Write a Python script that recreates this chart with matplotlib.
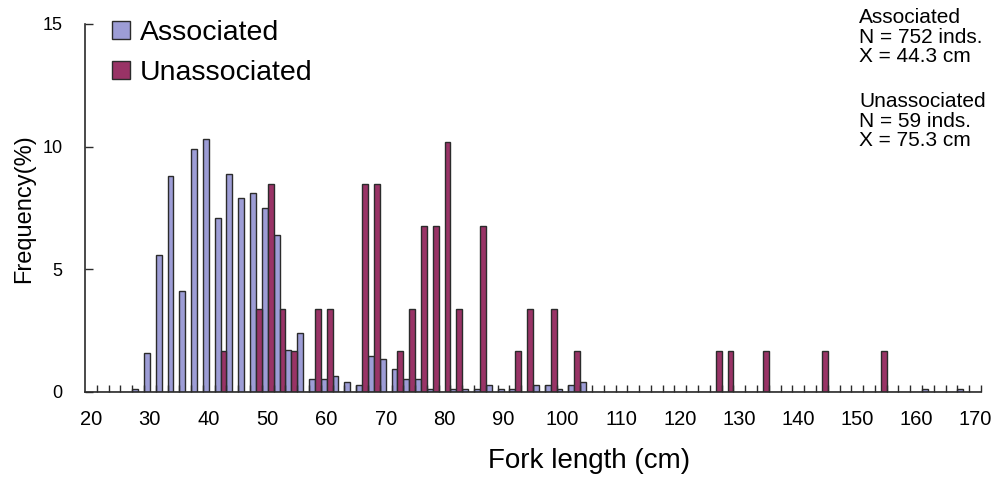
import numpy as np
import matplotlib
matplotlib.use("Agg")
import matplotlib.pyplot as plt
from matplotlib.patches import Patch

plt.rcParams['font.family'] = ['Liberation Sans', 'DejaVu Sans']

# 2 cm fork length classes
classes = list(range(20, 172, 2))

# associated schools, % of 752 fish (classes with no fish left out)
assoc_cm = [28, 30, 32, 34, 36, 38, 40, 42, 44, 46, 48, 50, 52, 54, 56, 58,
            60, 62, 64, 66, 68, 70, 72, 74, 76, 78, 82, 84, 86, 88, 90, 92,
            96, 98, 100, 102, 104, 162, 168]
assoc_pct = [0.13, 1.6, 5.6, 8.8, 4.1, 9.9, 10.3, 7.1, 8.9, 7.9, 8.1, 7.5,
             6.4, 1.7, 2.4, 0.53, 0.53, 0.67, 0.40, 0.27, 1.46, 1.33, 0.93,
             0.53, 0.53, 0.13, 0.13, 0.13, 0.13, 0.27, 0.13, 0.13, 0.27,
             0.27, 0.13, 0.27, 0.40, 0.13, 0.13]

# unassociated schools, % of 59 fish
unassoc_cm = [42, 48, 50, 52, 54, 58, 60, 66, 68, 72, 74, 76, 78, 80, 82, 86,
              92, 94, 98, 102, 126, 128, 134, 144, 154]
unassoc_pct = [1.69, 3.39, 8.47, 3.39, 1.69, 3.39, 3.39, 8.47, 8.47, 1.69,
               3.39, 6.78, 6.78, 10.17, 3.39, 6.78, 1.69, 3.39, 3.39, 1.69,
               1.69, 1.69, 1.69, 1.69, 1.69]

n = len(classes)
idx = {c: i for i, c in enumerate(classes)}
assoc = np.zeros(n)
unassoc = np.zeros(n)
for c, v in zip(assoc_cm, assoc_pct):
    assoc[idx[c]] = v
for c, v in zip(unassoc_cm, unassoc_pct):
    unassoc[idx[c]] = v

blue = '#9d9dd6'
red = '#993366'
edge = '#2b2b2b'

fig = plt.figure(figsize=(9.95, 4.79), dpi=100)
ax = fig.add_axes([85/995, 1-392/479, 896/995, 368/479])

x = np.arange(n)
w = 0.5
ax.bar(x - w/2, assoc, w, color=blue, edgecolor=edge, linewidth=1.0, label='Associated')
ax.bar(x + w/2, unassoc, w, color=red, edgecolor=edge, linewidth=1.0, label='Unassociated')

ax.set_xlim(-0.5, n - 0.5)
ax.set_ylim(0, 15)

# x labels every 10 cm, small ticks between classes
lab_pos = [i for i, c in enumerate(classes) if c % 10 == 0]
ax.set_xticks(lab_pos)
ax.set_xticklabels([str(classes[i]) for i in lab_pos], fontsize=14.5)
ax.tick_params(axis='x', which='major', length=0, pad=13)
ax.set_xticks(np.arange(n) + 0.5, minor=True)
ax.tick_params(axis='x', which='minor', direction='in', length=5, width=1, color=edge)

ax.set_yticks([0, 5, 10, 15])
ax.tick_params(axis='y', direction='in', length=6, width=1, color=edge, labelsize=13, pad=16)

for s in ['top', 'right']:
    ax.spines[s].set_visible(False)
for s in ['left', 'bottom']:
    ax.spines[s].set_color(edge)
    ax.spines[s].set_linewidth(1.2)

fig.text(24/995, 1-209/479, 'Frequency(%)', rotation=90, ha='center', va='center', fontsize=17)
fig.text(589/995, 1-461/479, 'Fork length (cm)', ha='center', va='center', fontsize=20)

handles = [Patch(facecolor=blue, edgecolor=edge, linewidth=1.0),
           Patch(facecolor=red, edgecolor=edge, linewidth=1.0)]
fig.legend(handles, ['Associated', 'Unassociated'], loc='upper left',
           bbox_to_anchor=(112/995, 1-20/479), frameon=False, fontsize=20.5,
           handlelength=0.62, handleheight=0.62, handletextpad=0.35,
           labelspacing=0.5, borderpad=0, borderaxespad=0)

fig.text(859/995, 1-8/479, 'Associated\nN = 752 inds.\nX = 44.3 cm',
         ha='left', va='top', fontsize=15, linespacing=1.05)
fig.text(859/995, 1-92/479, 'Unassociated\nN = 59 inds.\nX = 75.3 cm',
         ha='left', va='top', fontsize=15, linespacing=1.05)

fig.savefig('out.png', dpi=100)
